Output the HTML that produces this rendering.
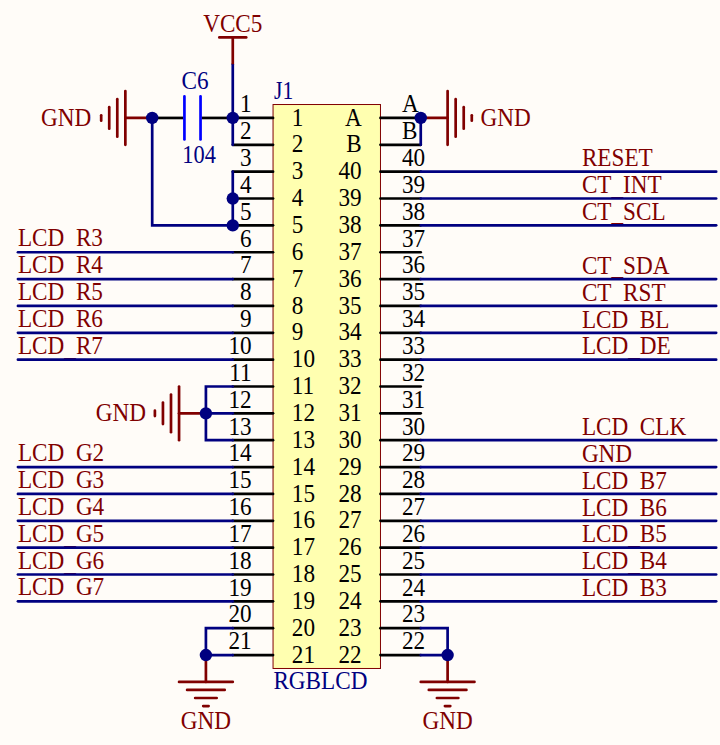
<!DOCTYPE html>
<html lang="en">
<head>
<meta charset="utf-8">
<title>RGBLCD connector schematic</title>
<style>
html,body{margin:0;padding:0;background:#FFFCF8;}
body{width:720px;height:745px;overflow:hidden;}
svg{display:block;}
svg text{font-family:"Liberation Serif","Times New Roman",serif;font-size:23.2px;}
</style>
</head>
<body>
<svg width="720" height="745" viewBox="0 0 720 745">
<rect x="0" y="0" width="720" height="745" fill="#FFFCF8"/>
<rect x="273.05" y="104.52" width="107.42" height="563.96" fill="#FFFFB0" stroke="#800000" stroke-width="1"/>
<line x1="273.05" y1="117.95" x2="232.77" y2="117.95" stroke="#000000" stroke-width="2.7" stroke-linecap="round"/>
<line x1="380.47" y1="117.95" x2="420.75" y2="117.95" stroke="#000000" stroke-width="2.7" stroke-linecap="round"/>
<text transform="translate(251.57 112) scale(1 1.12)" fill="#000000" text-anchor="end">1</text>
<text transform="translate(401.95 112) scale(1 1.08)" fill="#000000">A</text>
<text transform="translate(291.85 126) scale(1 1.12)" fill="#000000">1</text>
<text transform="translate(361.67 126) scale(1 1.08)" fill="#000000" text-anchor="end">A</text>
<line x1="273.05" y1="144.81" x2="232.77" y2="144.81" stroke="#000000" stroke-width="2.7" stroke-linecap="round"/>
<line x1="380.47" y1="144.81" x2="420.75" y2="144.81" stroke="#000000" stroke-width="2.7" stroke-linecap="round"/>
<text transform="translate(251.57 139) scale(1 1.12)" fill="#000000" text-anchor="end">2</text>
<text transform="translate(401.95 139) scale(1 1.08)" fill="#000000">B</text>
<text transform="translate(291.85 152) scale(1 1.12)" fill="#000000">2</text>
<text transform="translate(361.67 152) scale(1 1.08)" fill="#000000" text-anchor="end">B</text>
<line x1="273.05" y1="171.66" x2="232.77" y2="171.66" stroke="#000000" stroke-width="2.7" stroke-linecap="round"/>
<line x1="380.47" y1="171.66" x2="420.75" y2="171.66" stroke="#000000" stroke-width="2.7" stroke-linecap="round"/>
<text transform="translate(251.57 166) scale(1 1.12)" fill="#000000" text-anchor="end">3</text>
<text transform="translate(401.95 166) scale(1 1.12)" fill="#000000">40</text>
<text transform="translate(291.85 179) scale(1 1.12)" fill="#000000">3</text>
<text transform="translate(361.67 179) scale(1 1.12)" fill="#000000" text-anchor="end">40</text>
<line x1="273.05" y1="198.52" x2="232.77" y2="198.52" stroke="#000000" stroke-width="2.7" stroke-linecap="round"/>
<line x1="380.47" y1="198.52" x2="420.75" y2="198.52" stroke="#000000" stroke-width="2.7" stroke-linecap="round"/>
<text transform="translate(251.57 193) scale(1 1.12)" fill="#000000" text-anchor="end">4</text>
<text transform="translate(401.95 193) scale(1 1.12)" fill="#000000">39</text>
<text transform="translate(291.85 206) scale(1 1.12)" fill="#000000">4</text>
<text transform="translate(361.67 206) scale(1 1.12)" fill="#000000" text-anchor="end">39</text>
<line x1="273.05" y1="225.37" x2="232.77" y2="225.37" stroke="#000000" stroke-width="2.7" stroke-linecap="round"/>
<line x1="380.47" y1="225.37" x2="420.75" y2="225.37" stroke="#000000" stroke-width="2.7" stroke-linecap="round"/>
<text transform="translate(251.57 220) scale(1 1.12)" fill="#000000" text-anchor="end">5</text>
<text transform="translate(401.95 220) scale(1 1.12)" fill="#000000">38</text>
<text transform="translate(291.85 233) scale(1 1.12)" fill="#000000">5</text>
<text transform="translate(361.67 233) scale(1 1.12)" fill="#000000" text-anchor="end">38</text>
<line x1="273.05" y1="252.23" x2="232.77" y2="252.23" stroke="#000000" stroke-width="2.7" stroke-linecap="round"/>
<line x1="380.47" y1="252.23" x2="420.75" y2="252.23" stroke="#000000" stroke-width="2.7" stroke-linecap="round"/>
<text transform="translate(251.57 247) scale(1 1.12)" fill="#000000" text-anchor="end">6</text>
<text transform="translate(401.95 247) scale(1 1.12)" fill="#000000">37</text>
<text transform="translate(291.85 260) scale(1 1.12)" fill="#000000">6</text>
<text transform="translate(361.67 260) scale(1 1.12)" fill="#000000" text-anchor="end">37</text>
<line x1="273.05" y1="279.08" x2="232.77" y2="279.08" stroke="#000000" stroke-width="2.7" stroke-linecap="round"/>
<line x1="380.47" y1="279.08" x2="420.75" y2="279.08" stroke="#000000" stroke-width="2.7" stroke-linecap="round"/>
<text transform="translate(251.57 273) scale(1 1.12)" fill="#000000" text-anchor="end">7</text>
<text transform="translate(401.95 273) scale(1 1.12)" fill="#000000">36</text>
<text transform="translate(291.85 287) scale(1 1.12)" fill="#000000">7</text>
<text transform="translate(361.67 287) scale(1 1.12)" fill="#000000" text-anchor="end">36</text>
<line x1="273.05" y1="305.94" x2="232.77" y2="305.94" stroke="#000000" stroke-width="2.7" stroke-linecap="round"/>
<line x1="380.47" y1="305.94" x2="420.75" y2="305.94" stroke="#000000" stroke-width="2.7" stroke-linecap="round"/>
<text transform="translate(251.57 300) scale(1 1.12)" fill="#000000" text-anchor="end">8</text>
<text transform="translate(401.95 300) scale(1 1.12)" fill="#000000">35</text>
<text transform="translate(291.85 314) scale(1 1.12)" fill="#000000">8</text>
<text transform="translate(361.67 314) scale(1 1.12)" fill="#000000" text-anchor="end">35</text>
<line x1="273.05" y1="332.79" x2="232.77" y2="332.79" stroke="#000000" stroke-width="2.7" stroke-linecap="round"/>
<line x1="380.47" y1="332.79" x2="420.75" y2="332.79" stroke="#000000" stroke-width="2.7" stroke-linecap="round"/>
<text transform="translate(251.57 327) scale(1 1.12)" fill="#000000" text-anchor="end">9</text>
<text transform="translate(401.95 327) scale(1 1.12)" fill="#000000">34</text>
<text transform="translate(291.85 340) scale(1 1.12)" fill="#000000">9</text>
<text transform="translate(361.67 340) scale(1 1.12)" fill="#000000" text-anchor="end">34</text>
<line x1="273.05" y1="359.65" x2="232.77" y2="359.65" stroke="#000000" stroke-width="2.7" stroke-linecap="round"/>
<line x1="380.47" y1="359.65" x2="420.75" y2="359.65" stroke="#000000" stroke-width="2.7" stroke-linecap="round"/>
<text transform="translate(251.57 354) scale(1 1.12)" fill="#000000" text-anchor="end">10</text>
<text transform="translate(401.95 354) scale(1 1.12)" fill="#000000">33</text>
<text transform="translate(291.85 367) scale(1 1.12)" fill="#000000">10</text>
<text transform="translate(361.67 367) scale(1 1.12)" fill="#000000" text-anchor="end">33</text>
<line x1="273.05" y1="386.50" x2="232.77" y2="386.50" stroke="#000000" stroke-width="2.7" stroke-linecap="round"/>
<line x1="380.47" y1="386.50" x2="420.75" y2="386.50" stroke="#000000" stroke-width="2.7" stroke-linecap="round"/>
<text transform="translate(251.57 381) scale(1 1.12)" fill="#000000" text-anchor="end">11</text>
<text transform="translate(401.95 381) scale(1 1.12)" fill="#000000">32</text>
<text transform="translate(291.85 394) scale(1 1.12)" fill="#000000">11</text>
<text transform="translate(361.67 394) scale(1 1.12)" fill="#000000" text-anchor="end">32</text>
<line x1="273.05" y1="413.36" x2="232.77" y2="413.36" stroke="#000000" stroke-width="2.7" stroke-linecap="round"/>
<line x1="380.47" y1="413.36" x2="420.75" y2="413.36" stroke="#000000" stroke-width="2.7" stroke-linecap="round"/>
<text transform="translate(251.57 408) scale(1 1.12)" fill="#000000" text-anchor="end">12</text>
<text transform="translate(401.95 408) scale(1 1.12)" fill="#000000">31</text>
<text transform="translate(291.85 421) scale(1 1.12)" fill="#000000">12</text>
<text transform="translate(361.67 421) scale(1 1.12)" fill="#000000" text-anchor="end">31</text>
<line x1="273.05" y1="440.21" x2="232.77" y2="440.21" stroke="#000000" stroke-width="2.7" stroke-linecap="round"/>
<line x1="380.47" y1="440.21" x2="420.75" y2="440.21" stroke="#000000" stroke-width="2.7" stroke-linecap="round"/>
<text transform="translate(251.57 435) scale(1 1.12)" fill="#000000" text-anchor="end">13</text>
<text transform="translate(401.95 435) scale(1 1.12)" fill="#000000">30</text>
<text transform="translate(291.85 448) scale(1 1.12)" fill="#000000">13</text>
<text transform="translate(361.67 448) scale(1 1.12)" fill="#000000" text-anchor="end">30</text>
<line x1="273.05" y1="467.07" x2="232.77" y2="467.07" stroke="#000000" stroke-width="2.7" stroke-linecap="round"/>
<line x1="380.47" y1="467.07" x2="420.75" y2="467.07" stroke="#000000" stroke-width="2.7" stroke-linecap="round"/>
<text transform="translate(251.57 461) scale(1 1.12)" fill="#000000" text-anchor="end">14</text>
<text transform="translate(401.95 461) scale(1 1.12)" fill="#000000">29</text>
<text transform="translate(291.85 475) scale(1 1.12)" fill="#000000">14</text>
<text transform="translate(361.67 475) scale(1 1.12)" fill="#000000" text-anchor="end">29</text>
<line x1="273.05" y1="493.92" x2="232.77" y2="493.92" stroke="#000000" stroke-width="2.7" stroke-linecap="round"/>
<line x1="380.47" y1="493.92" x2="420.75" y2="493.92" stroke="#000000" stroke-width="2.7" stroke-linecap="round"/>
<text transform="translate(251.57 488) scale(1 1.12)" fill="#000000" text-anchor="end">15</text>
<text transform="translate(401.95 488) scale(1 1.12)" fill="#000000">28</text>
<text transform="translate(291.85 502) scale(1 1.12)" fill="#000000">15</text>
<text transform="translate(361.67 502) scale(1 1.12)" fill="#000000" text-anchor="end">28</text>
<line x1="273.05" y1="520.78" x2="232.77" y2="520.78" stroke="#000000" stroke-width="2.7" stroke-linecap="round"/>
<line x1="380.47" y1="520.78" x2="420.75" y2="520.78" stroke="#000000" stroke-width="2.7" stroke-linecap="round"/>
<text transform="translate(251.57 515) scale(1 1.12)" fill="#000000" text-anchor="end">16</text>
<text transform="translate(401.95 515) scale(1 1.12)" fill="#000000">27</text>
<text transform="translate(291.85 528) scale(1 1.12)" fill="#000000">16</text>
<text transform="translate(361.67 528) scale(1 1.12)" fill="#000000" text-anchor="end">27</text>
<line x1="273.05" y1="547.63" x2="232.77" y2="547.63" stroke="#000000" stroke-width="2.7" stroke-linecap="round"/>
<line x1="380.47" y1="547.63" x2="420.75" y2="547.63" stroke="#000000" stroke-width="2.7" stroke-linecap="round"/>
<text transform="translate(251.57 542) scale(1 1.12)" fill="#000000" text-anchor="end">17</text>
<text transform="translate(401.95 542) scale(1 1.12)" fill="#000000">26</text>
<text transform="translate(291.85 555) scale(1 1.12)" fill="#000000">17</text>
<text transform="translate(361.67 555) scale(1 1.12)" fill="#000000" text-anchor="end">26</text>
<line x1="273.05" y1="574.49" x2="232.77" y2="574.49" stroke="#000000" stroke-width="2.7" stroke-linecap="round"/>
<line x1="380.47" y1="574.49" x2="420.75" y2="574.49" stroke="#000000" stroke-width="2.7" stroke-linecap="round"/>
<text transform="translate(251.57 569) scale(1 1.12)" fill="#000000" text-anchor="end">18</text>
<text transform="translate(401.95 569) scale(1 1.12)" fill="#000000">25</text>
<text transform="translate(291.85 582) scale(1 1.12)" fill="#000000">18</text>
<text transform="translate(361.67 582) scale(1 1.12)" fill="#000000" text-anchor="end">25</text>
<line x1="273.05" y1="601.34" x2="232.77" y2="601.34" stroke="#000000" stroke-width="2.7" stroke-linecap="round"/>
<line x1="380.47" y1="601.34" x2="420.75" y2="601.34" stroke="#000000" stroke-width="2.7" stroke-linecap="round"/>
<text transform="translate(251.57 596) scale(1 1.12)" fill="#000000" text-anchor="end">19</text>
<text transform="translate(401.95 596) scale(1 1.12)" fill="#000000">24</text>
<text transform="translate(291.85 609) scale(1 1.12)" fill="#000000">19</text>
<text transform="translate(361.67 609) scale(1 1.12)" fill="#000000" text-anchor="end">24</text>
<line x1="273.05" y1="628.20" x2="232.77" y2="628.20" stroke="#000000" stroke-width="2.7" stroke-linecap="round"/>
<line x1="380.47" y1="628.20" x2="420.75" y2="628.20" stroke="#000000" stroke-width="2.7" stroke-linecap="round"/>
<text transform="translate(251.57 622) scale(1 1.12)" fill="#000000" text-anchor="end">20</text>
<text transform="translate(401.95 622) scale(1 1.12)" fill="#000000">23</text>
<text transform="translate(291.85 636) scale(1 1.12)" fill="#000000">20</text>
<text transform="translate(361.67 636) scale(1 1.12)" fill="#000000" text-anchor="end">23</text>
<line x1="273.05" y1="655.05" x2="232.77" y2="655.05" stroke="#000000" stroke-width="2.7" stroke-linecap="round"/>
<line x1="380.47" y1="655.05" x2="420.75" y2="655.05" stroke="#000000" stroke-width="2.7" stroke-linecap="round"/>
<text transform="translate(251.57 649) scale(1 1.12)" fill="#000000" text-anchor="end">21</text>
<text transform="translate(401.95 649) scale(1 1.12)" fill="#000000">22</text>
<text transform="translate(291.85 663) scale(1 1.12)" fill="#000000">21</text>
<text transform="translate(361.67 663) scale(1 1.12)" fill="#000000" text-anchor="end">22</text>
<text transform="translate(17.93 246) scale(1 1.08)" fill="#800000">LCD<tspan dy="2.78">_</tspan><tspan dy="-2.78">R3</tspan></text>
<text transform="translate(17.93 273) scale(1 1.08)" fill="#800000">LCD<tspan dy="2.65">_</tspan><tspan dy="-2.65">R4</tspan></text>
<text transform="translate(17.93 300) scale(1 1.08)" fill="#800000">LCD<tspan dy="2.51">_</tspan><tspan dy="-2.51">R5</tspan></text>
<text transform="translate(17.93 327) scale(1 1.08)" fill="#800000">LCD<tspan dy="2.38">_</tspan><tspan dy="-2.38">R6</tspan></text>
<text transform="translate(17.93 354) scale(1 1.08)" fill="#800000">LCD<tspan dy="2.24">_</tspan><tspan dy="-2.24">R7</tspan></text>
<text transform="translate(17.93 461) scale(1 1.08)" fill="#800000">LCD<tspan dy="2.63">_</tspan><tspan dy="-2.63">G2</tspan></text>
<text transform="translate(17.93 488) scale(1 1.08)" fill="#800000">LCD<tspan dy="2.5">_</tspan><tspan dy="-2.5">G3</tspan></text>
<text transform="translate(17.93 515) scale(1 1.08)" fill="#800000">LCD<tspan dy="2.36">_</tspan><tspan dy="-2.36">G4</tspan></text>
<text transform="translate(17.93 542) scale(1 1.08)" fill="#800000">LCD<tspan dy="2.23">_</tspan><tspan dy="-2.23">G5</tspan></text>
<text transform="translate(17.93 569) scale(1 1.08)" fill="#800000">LCD<tspan dy="2.1">_</tspan><tspan dy="-2.1">G6</tspan></text>
<text transform="translate(17.93 595) scale(1 1.08)" fill="#800000">LCD<tspan dy="2.89">_</tspan><tspan dy="-2.89">G7</tspan></text>
<text transform="translate(581.88 166) scale(1 1.08)" fill="#800000">RESET</text>
<text transform="translate(581.88 193) scale(1 1.08)" fill="#800000">CT<tspan dy="2.12">_</tspan><tspan dy="-2.12">INT</tspan></text>
<text transform="translate(581.88 220) scale(1 1.08)" fill="#800000">CT<tspan dy="1.09">_</tspan><tspan dy="-1.09">SCL</tspan></text>
<text transform="translate(581.88 274) scale(1 1.08)" fill="#800000">CT<tspan dy="0.82">_</tspan><tspan dy="-0.82">SDA</tspan></text>
<text transform="translate(581.88 301) scale(1 1.08)" fill="#800000">CT<tspan dy="1.59">_</tspan><tspan dy="-1.59">RST</tspan></text>
<text transform="translate(581.88 328) scale(1 1.08)" fill="#800000">LCD<tspan dy="1.45">_</tspan><tspan dy="-1.45">BL</tspan></text>
<text transform="translate(581.88 354) scale(1 1.08)" fill="#800000">LCD<tspan dy="2.24">_</tspan><tspan dy="-2.24">DE</tspan></text>
<text transform="translate(581.88 435) scale(1 1.08)" fill="#800000">LCD<tspan dy="1.84">_</tspan><tspan dy="-1.84">CLK</tspan></text>
<text transform="translate(581.88 462) scale(1 1.08)" fill="#800000">GND</text>
<text transform="translate(581.88 489) scale(1 1.08)" fill="#800000">LCD<tspan dy="1.57">_</tspan><tspan dy="-1.57">B7</tspan></text>
<text transform="translate(581.88 516) scale(1 1.08)" fill="#800000">LCD<tspan dy="1.44">_</tspan><tspan dy="-1.44">B6</tspan></text>
<text transform="translate(581.88 542) scale(1 1.08)" fill="#800000">LCD<tspan dy="2.23">_</tspan><tspan dy="-2.23">B5</tspan></text>
<text transform="translate(581.88 569) scale(1 1.08)" fill="#800000">LCD<tspan dy="2.1">_</tspan><tspan dy="-2.1">B4</tspan></text>
<text transform="translate(581.88 596) scale(1 1.08)" fill="#800000">LCD<tspan dy="1.96">_</tspan><tspan dy="-1.96">B3</tspan></text>
<line x1="17.93" y1="252.23" x2="232.77" y2="252.23" stroke="#000080" stroke-width="2.7" stroke-linecap="round"/>
<line x1="17.93" y1="279.08" x2="232.77" y2="279.08" stroke="#000080" stroke-width="2.7" stroke-linecap="round"/>
<line x1="17.93" y1="305.94" x2="232.77" y2="305.94" stroke="#000080" stroke-width="2.7" stroke-linecap="round"/>
<line x1="17.93" y1="332.79" x2="232.77" y2="332.79" stroke="#000080" stroke-width="2.7" stroke-linecap="round"/>
<line x1="17.93" y1="359.65" x2="232.77" y2="359.65" stroke="#000080" stroke-width="2.7" stroke-linecap="round"/>
<line x1="17.93" y1="467.07" x2="232.77" y2="467.07" stroke="#000080" stroke-width="2.7" stroke-linecap="round"/>
<line x1="17.93" y1="493.92" x2="232.77" y2="493.92" stroke="#000080" stroke-width="2.7" stroke-linecap="round"/>
<line x1="17.93" y1="520.78" x2="232.77" y2="520.78" stroke="#000080" stroke-width="2.7" stroke-linecap="round"/>
<line x1="17.93" y1="547.63" x2="232.77" y2="547.63" stroke="#000080" stroke-width="2.7" stroke-linecap="round"/>
<line x1="17.93" y1="574.49" x2="232.77" y2="574.49" stroke="#000080" stroke-width="2.7" stroke-linecap="round"/>
<line x1="17.93" y1="601.34" x2="232.77" y2="601.34" stroke="#000080" stroke-width="2.7" stroke-linecap="round"/>
<line x1="420.75" y1="171.66" x2="716.16" y2="171.66" stroke="#000080" stroke-width="2.7" stroke-linecap="round"/>
<line x1="420.75" y1="198.52" x2="716.16" y2="198.52" stroke="#000080" stroke-width="2.7" stroke-linecap="round"/>
<line x1="420.75" y1="225.37" x2="716.16" y2="225.37" stroke="#000080" stroke-width="2.7" stroke-linecap="round"/>
<line x1="420.75" y1="279.08" x2="716.16" y2="279.08" stroke="#000080" stroke-width="2.7" stroke-linecap="round"/>
<line x1="420.75" y1="305.94" x2="716.16" y2="305.94" stroke="#000080" stroke-width="2.7" stroke-linecap="round"/>
<line x1="420.75" y1="332.79" x2="716.16" y2="332.79" stroke="#000080" stroke-width="2.7" stroke-linecap="round"/>
<line x1="420.75" y1="359.65" x2="716.16" y2="359.65" stroke="#000080" stroke-width="2.7" stroke-linecap="round"/>
<line x1="420.75" y1="440.21" x2="716.16" y2="440.21" stroke="#000080" stroke-width="2.7" stroke-linecap="round"/>
<line x1="420.75" y1="467.07" x2="716.16" y2="467.07" stroke="#000080" stroke-width="2.7" stroke-linecap="round"/>
<line x1="420.75" y1="493.92" x2="716.16" y2="493.92" stroke="#000080" stroke-width="2.7" stroke-linecap="round"/>
<line x1="420.75" y1="520.78" x2="716.16" y2="520.78" stroke="#000080" stroke-width="2.7" stroke-linecap="round"/>
<line x1="420.75" y1="547.63" x2="716.16" y2="547.63" stroke="#000080" stroke-width="2.7" stroke-linecap="round"/>
<line x1="420.75" y1="574.49" x2="716.16" y2="574.49" stroke="#000080" stroke-width="2.7" stroke-linecap="round"/>
<line x1="420.75" y1="601.34" x2="716.16" y2="601.34" stroke="#000080" stroke-width="2.7" stroke-linecap="round"/>
<line x1="232.77" y1="117.95" x2="232.77" y2="64.24" stroke="#000080" stroke-width="2.7" stroke-linecap="round"/>
<line x1="232.77" y1="64.24" x2="232.77" y2="37.38" stroke="#800000" stroke-width="2.7" stroke-linecap="butt"/>
<line x1="219.34" y1="37.38" x2="246.20" y2="37.38" stroke="#800000" stroke-width="2.7" stroke-linecap="round"/>
<text transform="translate(232.77 32) scale(1 1.08)" fill="#800000" text-anchor="middle">VCC5</text>
<line x1="232.77" y1="117.95" x2="232.77" y2="144.81" stroke="#000080" stroke-width="2.7" stroke-linecap="round"/>
<line x1="232.77" y1="171.66" x2="232.77" y2="225.37" stroke="#000080" stroke-width="2.7" stroke-linecap="round"/>
<polyline points="152.20,117.95 152.20,225.37 232.77,225.37" fill="none" stroke="#000080" stroke-width="2.7" stroke-linecap="round" stroke-linejoin="miter"/>
<line x1="152.20" y1="117.95" x2="183.43" y2="117.95" stroke="#000000" stroke-width="2.7" stroke-linecap="butt"/>
<line x1="201.54" y1="117.95" x2="232.77" y2="117.95" stroke="#000000" stroke-width="2.7" stroke-linecap="butt"/>
<line x1="184.43" y1="96.47" x2="184.43" y2="139.43" stroke="#0000FF" stroke-width="2.7" stroke-linecap="round"/>
<line x1="200.54" y1="96.47" x2="200.54" y2="139.43" stroke="#0000FF" stroke-width="2.7" stroke-linecap="round"/>
<text transform="translate(181.60 89) scale(1 1.06)" fill="#000080">C6</text>
<text transform="translate(182.30 163) scale(0.965 1.12)" fill="#000080">104</text>
<line x1="152.20" y1="117.95" x2="125.35" y2="117.95" stroke="#800000" stroke-width="2.7" stroke-linecap="round"/>
<line x1="125.35" y1="144.81" x2="125.35" y2="91.09" stroke="#800000" stroke-width="2.7" stroke-linecap="round"/>
<line x1="117.29" y1="136.75" x2="117.29" y2="99.15" stroke="#800000" stroke-width="2.7" stroke-linecap="round"/>
<line x1="109.23" y1="128.69" x2="109.23" y2="107.21" stroke="#800000" stroke-width="2.7" stroke-linecap="round"/>
<line x1="101.18" y1="120.64" x2="101.18" y2="115.26" stroke="#800000" stroke-width="2.7" stroke-linecap="round"/>
<text transform="translate(91.20 126) scale(1 1.08)" fill="#800000" text-anchor="end">GND</text>
<polyline points="232.77,386.50 205.91,386.50 205.91,440.21 232.77,440.21" fill="none" stroke="#000080" stroke-width="2.7" stroke-linecap="round" stroke-linejoin="miter"/>
<line x1="205.91" y1="413.36" x2="232.77" y2="413.36" stroke="#000080" stroke-width="2.7" stroke-linecap="round"/>
<line x1="205.91" y1="413.36" x2="179.06" y2="413.36" stroke="#800000" stroke-width="2.7" stroke-linecap="round"/>
<line x1="179.06" y1="440.21" x2="179.06" y2="386.50" stroke="#800000" stroke-width="2.7" stroke-linecap="round"/>
<line x1="171.00" y1="432.15" x2="171.00" y2="394.56" stroke="#800000" stroke-width="2.7" stroke-linecap="round"/>
<line x1="162.94" y1="424.10" x2="162.94" y2="402.61" stroke="#800000" stroke-width="2.7" stroke-linecap="round"/>
<line x1="154.89" y1="416.04" x2="154.89" y2="410.67" stroke="#800000" stroke-width="2.7" stroke-linecap="round"/>
<text transform="translate(145.99 421) scale(1 1.08)" fill="#800000" text-anchor="end">GND</text>
<polyline points="232.77,628.20 205.91,628.20 205.91,655.05" fill="none" stroke="#000080" stroke-width="2.7" stroke-linecap="round" stroke-linejoin="miter"/>
<line x1="205.91" y1="655.05" x2="232.77" y2="655.05" stroke="#000080" stroke-width="2.7" stroke-linecap="round"/>
<line x1="205.91" y1="655.05" x2="205.91" y2="681.91" stroke="#800000" stroke-width="2.7" stroke-linecap="round"/>
<line x1="232.77" y1="681.91" x2="179.06" y2="681.91" stroke="#800000" stroke-width="2.7" stroke-linecap="round"/>
<line x1="224.71" y1="689.96" x2="187.11" y2="689.96" stroke="#800000" stroke-width="2.7" stroke-linecap="round"/>
<line x1="216.65" y1="698.02" x2="195.17" y2="698.02" stroke="#800000" stroke-width="2.7" stroke-linecap="round"/>
<line x1="208.60" y1="706.07" x2="203.23" y2="706.07" stroke="#800000" stroke-width="2.7" stroke-linecap="round"/>
<text transform="translate(205.91 729) scale(1 1.08)" fill="#800000" text-anchor="middle">GND</text>
<line x1="420.75" y1="117.95" x2="420.75" y2="144.81" stroke="#000080" stroke-width="2.7" stroke-linecap="round"/>
<line x1="420.75" y1="117.95" x2="447.61" y2="117.95" stroke="#800000" stroke-width="2.7" stroke-linecap="round"/>
<line x1="447.61" y1="91.09" x2="447.61" y2="144.81" stroke="#800000" stroke-width="2.7" stroke-linecap="round"/>
<line x1="455.66" y1="99.15" x2="455.66" y2="136.75" stroke="#800000" stroke-width="2.7" stroke-linecap="round"/>
<line x1="463.72" y1="107.21" x2="463.72" y2="128.69" stroke="#800000" stroke-width="2.7" stroke-linecap="round"/>
<line x1="471.78" y1="115.26" x2="471.78" y2="120.64" stroke="#800000" stroke-width="2.7" stroke-linecap="round"/>
<text transform="translate(480.60 126) scale(1 1.08)" fill="#800000">GND</text>
<polyline points="420.75,628.20 447.61,628.20 447.61,655.05" fill="none" stroke="#000080" stroke-width="2.7" stroke-linecap="round" stroke-linejoin="miter"/>
<line x1="420.75" y1="655.05" x2="447.61" y2="655.05" stroke="#000080" stroke-width="2.7" stroke-linecap="round"/>
<line x1="447.61" y1="655.05" x2="447.61" y2="681.91" stroke="#800000" stroke-width="2.7" stroke-linecap="round"/>
<line x1="474.46" y1="681.91" x2="420.75" y2="681.91" stroke="#800000" stroke-width="2.7" stroke-linecap="round"/>
<line x1="466.41" y1="689.96" x2="428.81" y2="689.96" stroke="#800000" stroke-width="2.7" stroke-linecap="round"/>
<line x1="458.35" y1="698.02" x2="436.87" y2="698.02" stroke="#800000" stroke-width="2.7" stroke-linecap="round"/>
<line x1="450.29" y1="706.07" x2="444.92" y2="706.07" stroke="#800000" stroke-width="2.7" stroke-linecap="round"/>
<text transform="translate(447.61 729) scale(1 1.08)" fill="#800000" text-anchor="middle">GND</text>
<circle cx="232.77" cy="117.95" r="6.2" fill="#000080"/>
<circle cx="152.20" cy="117.95" r="6.2" fill="#000080"/>
<circle cx="232.77" cy="198.52" r="6.2" fill="#000080"/>
<circle cx="232.77" cy="225.37" r="6.2" fill="#000080"/>
<circle cx="205.91" cy="413.36" r="6.2" fill="#000080"/>
<circle cx="205.91" cy="655.05" r="6.2" fill="#000080"/>
<circle cx="420.75" cy="117.95" r="6.2" fill="#000080"/>
<circle cx="447.61" cy="655.05" r="6.2" fill="#000080"/>
<text transform="translate(274.00 99) scale(0.93 1.08)" fill="#000080">J1</text>
<text transform="translate(273.40 689) scale(1 1.08)" fill="#000080">RGBLCD</text>
</svg>
</body>
</html>
